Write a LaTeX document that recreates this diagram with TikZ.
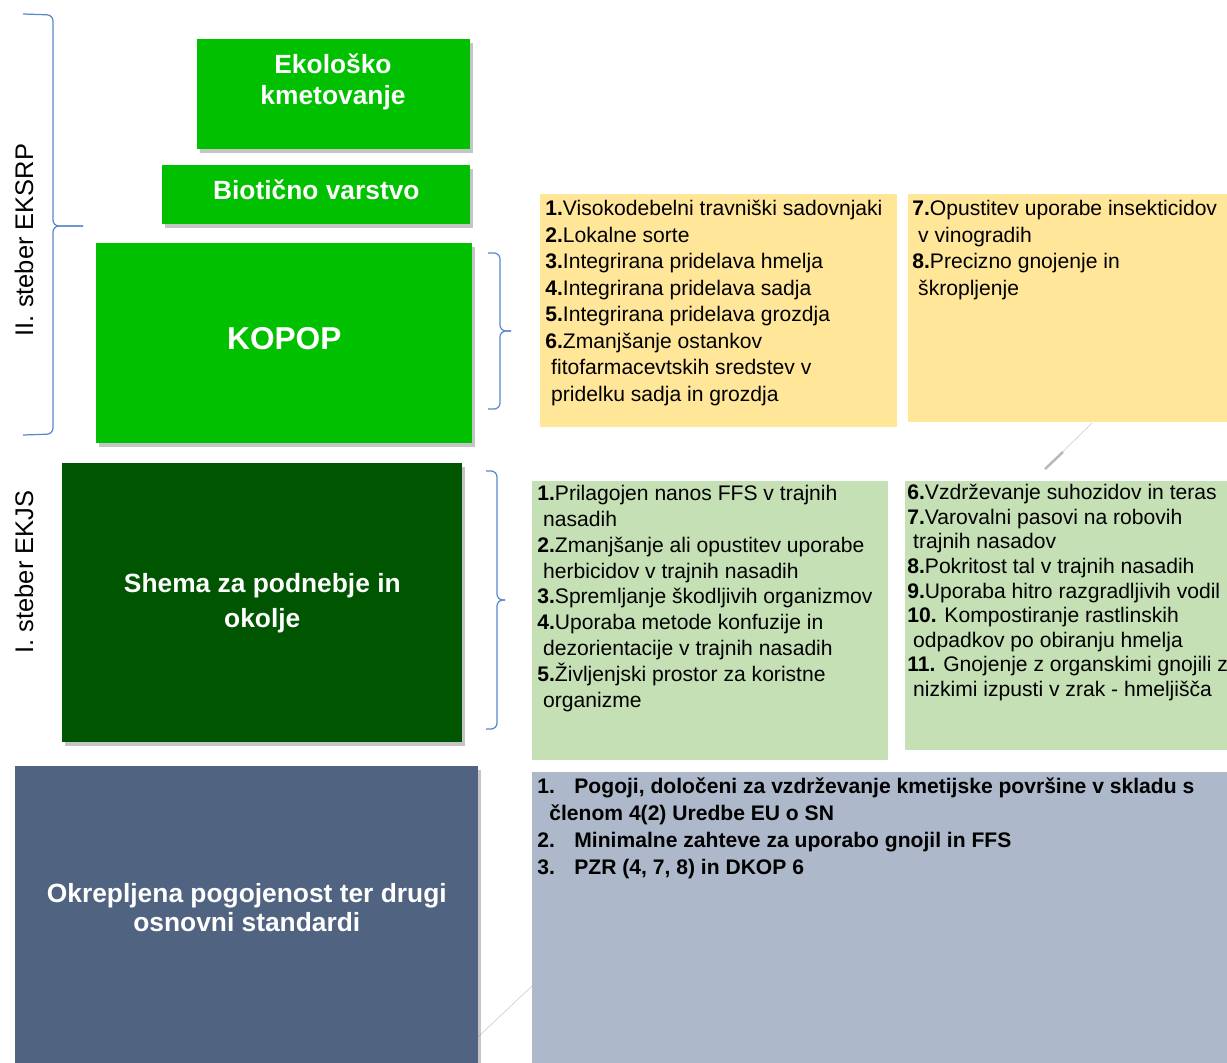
\documentclass[tikz,border=0pt]{standalone}
\usepackage{fontspec}
\setmainfont{Liberation Sans}
\usetikzlibrary{positioning,shadows}

\definecolor{brightgreen}{RGB}{0,192,0}
\definecolor{darkgreen}{RGB}{0,86,0}
\definecolor{slate}{RGB}{80,99,129}
\definecolor{paleyellow}{RGB}{255,230,153}
\definecolor{palegreen}{RGB}{197,224,180}
\definecolor{paleblue}{RGB}{173,185,202}
\definecolor{braceblue}{RGB}{91,134,204}

\tikzset{
  box/.style={anchor=north west, inner sep=0pt, text=white, align=center,
    font=\bfseries\fontsize{15}{17.6}\selectfont,
    drop shadow={shadow xshift=0.5mm, shadow yshift=-0.7mm, fill=black!45, opacity=0.5}},
  listbox/.style={anchor=north west, inner sep=0pt},
  items/.style={anchor=north west, inner sep=0pt, align=left, font=\fontsize{12}{15.1}\selectfont},
  bracket/.style={draw=braceblue, line width=0.7pt, rounded corners=0.12cm},
  pillar/.style={rotate=90, inner sep=0pt, font=\fontsize{14.5}{17}\selectfont},
  faint/.style={draw=black!22, line width=0.3pt}
}

\begin{document}
\begin{tikzpicture}[x=0.02cm, y=-0.02cm]
  \useasboundingbox (0,0) rectangle (1227,1062);

  % leftover guide lines
  \coordinate (ga) at (1092,423);
  \coordinate (gb) at (1045,469);
  \coordinate (gc) at (1063,452);
  \coordinate (gd) at (533,985);
  \coordinate (ge) at (478,1037);
  \draw[faint] (ga) -- (gb);
  \draw[draw=black!28, line width=1.4pt] (gc) -- (gb);
  \draw[faint] (gd) -- (ge);

  % pillars
  \node[pillar] (eksrp) at (24,240) {II. steber EKSRP};
  \node[pillar] (ekjs) at (24,572) {I. steber EKJS};

  \draw[bracket] (23,14) -- (53,15) -- (53,226) -- (83,226);
  \draw[bracket] (23,435) -- (53,434) -- (53,226) -- (83,226);

  % left column
  \node[box, fill=brightgreen, minimum width=5.46cm, minimum height=2.2cm] (eko) at (197,39) {};
  \node[text=white, align=center, inner sep=0pt, font=\bfseries\fontsize{15}{17.6}\selectfont]
    (ekotxt) at (333,82) {Ekološko\\kmetovanje};
  \node[box, fill=brightgreen, minimum width=6.16cm, minimum height=1.18cm,
    text depth=0.2cm] (bio) at (162,165) {Biotično varstvo};
  \node[box, fill=brightgreen, minimum width=7.52cm, minimum height=4.0cm,
    text depth=0.2cm, font=\bfseries\fontsize{18}{21}\selectfont] (kopop) at (96,243) {KOPOP};
  \node[box, fill=darkgreen, minimum width=8.0cm, minimum height=5.58cm,
    font=\bfseries\fontsize{15}{19.9}\selectfont] (shema) at (62,463) {Shema za podnebje in\\okolje};
  \node[box, fill=slate, minimum width=9.26cm, minimum height=6.0cm, text depth=0.36cm,
    font=\bfseries\fontsize{15}{16.5}\selectfont] (okrep) at (15,766) {Okrepljena pogojenost ter drugi\\osnovni standardi};

  % braces
  \draw[bracket] (488,253) -- (500,253) -- (500,331) -- (511,331);
  \draw[bracket] (488,409) -- (500,409) -- (500,331) -- (511,331);
  \draw[bracket] (486,471) -- (497,471) -- (497,600) -- (505,600);
  \draw[bracket] (486,729) -- (497,729) -- (497,600) -- (505,600);

  % KOPOP
  \node[listbox, fill=paleyellow, minimum width=7.14cm, minimum height=4.66cm] (kopa) at (540,194) {};
  \node[listbox, fill=paleyellow, minimum width=6.6cm, minimum height=4.56cm] (kopb) at (908,194) {};
  \node[items] (kopalist) at (545,200) {\textbf{1.}Visokodebelni travniški sadovnjaki\\
    \textbf{2.}Lokalne sorte\\
    \textbf{3.}Integrirana pridelava hmelja\\
    \textbf{4.}Integrirana pridelava sadja\\
    \textbf{5.}Integrirana pridelava grozdja\\
    \textbf{6.}Zmanjšanje ostankov\\
    \ fitofarmacevtskih sredstev v\\
    \ pridelku sadja in grozdja};
  \node[items] (kopblist) at (912,200) {\textbf{7.}Opustitev uporabe insekticidov\\
    \ v vinogradih\\
    \textbf{8.}Precizno gnojenje in\\
    \ škropljenje};

  % EKJS
  \node[listbox, fill=palegreen, minimum width=7.12cm, minimum height=5.58cm] (ekja) at (532,481) {};
  \node[listbox, fill=palegreen, minimum width=6.6cm, minimum height=5.38cm] (ekjb) at (905,481) {};
  \node[items, font=\fontsize{12}{14.7}\selectfont] (ekjalist) at (537,485) {\textbf{1.}Prilagojen nanos FFS v trajnih\\
    \ nasadih\\
    \textbf{2.}Zmanjšanje ali opustitev uporabe\\
    \ herbicidov v trajnih nasadih\\
    \textbf{3.}Spremljanje škodljivih organizmov\\
    \textbf{4.}Uporaba metode konfuzije in\\
    \ dezorientacije v trajnih nasadih\\
    \textbf{5.}Življenjski prostor za koristne\\
    \ organizme};
  \node[items, font=\fontsize{12}{14}\selectfont] (ekjblist) at (907,484) {\textbf{6.}Vzdrževanje suhozidov in teras\\
    \textbf{7.}Varovalni pasovi na robovih\\
    \ trajnih nasadov\\
    \textbf{8.}Pokritost tal v trajnih nasadih\\
    \textbf{9.}Uporaba hitro razgradljivih vodil\\
    \textbf{10.} Kompostiranje rastlinskih\\
    \ odpadkov po obiranju hmelja\\
    \textbf{11.} Gnojenje z organskimi gnojili z\\
    \ nizkimi izpusti v zrak - hmeljišča};

  % pogojenost
  \node[listbox, fill=paleblue, minimum width=14cm, minimum height=5.9cm] (pogo) at (532,772) {};
  \node[items, font=\bfseries\fontsize{12}{15.4}\selectfont] (pogolist) at (537,777) {1.\hspace{0.39cm}Pogoji, določeni za vzdrževanje kmetijske površine v skladu s\\
    \hspace{0.24cm}členom 4(2) Uredbe EU o SN\\
    2.\hspace{0.39cm}Minimalne zahteve za uporabo gnojil in FFS\\
    3.\hspace{0.39cm}PZR (4, 7, 8) in DKOP 6};

\end{tikzpicture}
\end{document}
